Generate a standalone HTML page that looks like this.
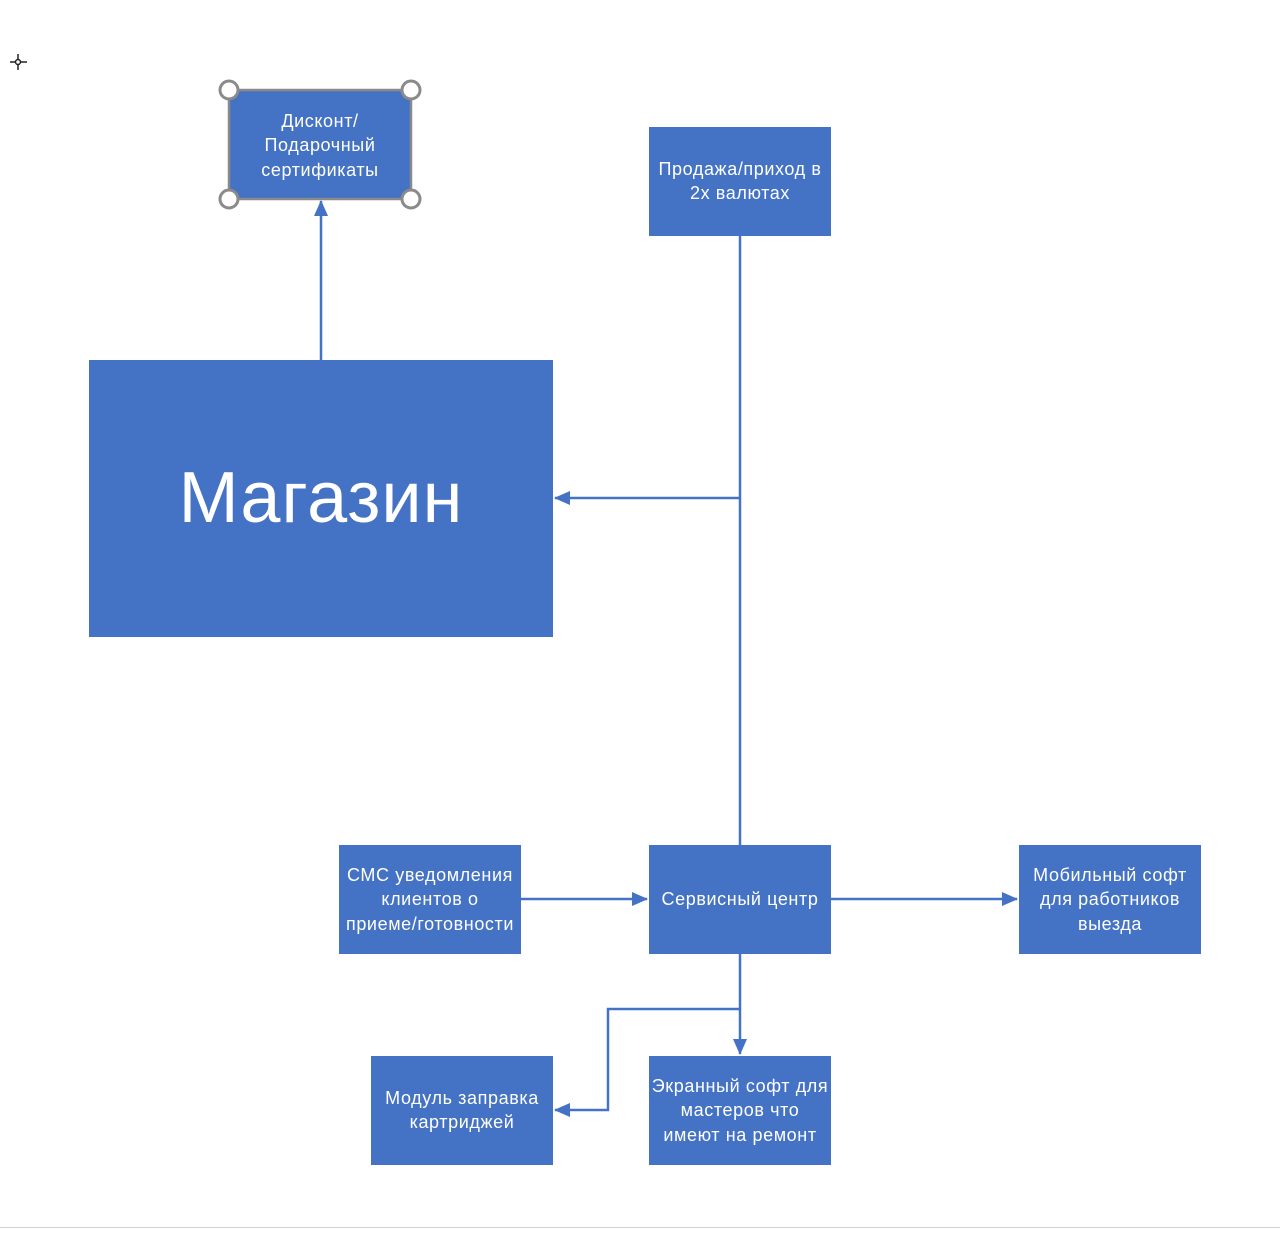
<!DOCTYPE html>
<html><head><meta charset="utf-8"><style>
html,body{margin:0;padding:0;background:#fff;width:1280px;height:1235px;overflow:hidden}
svg{display:block}
text{font-family:"Liberation Sans","DejaVu Sans",sans-serif;fill:#fff;text-anchor:middle}
</style></head><body>
<svg width="1280" height="1235" viewBox="0 0 1280 1235" xmlns="http://www.w3.org/2000/svg">
<defs>
<marker id="b" markerWidth="16" markerHeight="14" refX="15" refY="7" orient="auto" markerUnits="userSpaceOnUse">
<path d="M0,0 L16,7 L0,14 z" fill="#4472C4"/></marker>
</defs>
<g stroke="#222" stroke-width="1.5" fill="none">
<line x1="10" y1="62" x2="27" y2="62"/><line x1="18" y1="54" x2="18" y2="70"/>
<circle cx="18" cy="62" r="2.5" fill="#fff"/></g>
<g stroke="#4472C4" stroke-width="2.5" fill="none">
<line x1="321" y1="360" x2="321" y2="201" marker-end="url(#b)"/>
<line x1="740" y1="236" x2="740" y2="845"/>
<line x1="740" y1="498" x2="555" y2="498" marker-end="url(#b)"/>
<line x1="521" y1="899" x2="647" y2="899" marker-end="url(#b)"/>
<line x1="831" y1="899" x2="1017" y2="899" marker-end="url(#b)"/>
<line x1="740" y1="954" x2="740" y2="1054" marker-end="url(#b)"/>
<polyline points="740,1009 608,1009 608,1110 555,1110" marker-end="url(#b)"/>
</g>
<g fill="#4472C4">
<rect x="229" y="90" width="182" height="109" stroke="#8a8a8a" stroke-width="2.5"/>
<rect x="649" y="127" width="182" height="109"/>
<rect x="89" y="360" width="464" height="277"/>
<rect x="339" y="845" width="182" height="109"/>
<rect x="649" y="845" width="182" height="109"/>
<rect x="1019" y="845" width="182" height="109"/>
<rect x="371" y="1056" width="182" height="109"/>
<rect x="649" y="1056" width="182" height="109"/>
</g>
<g fill="#fff" stroke="#8a8a8a" stroke-width="3">
<circle cx="229" cy="90" r="9"/><circle cx="411" cy="90" r="9"/>
<circle cx="229" cy="199" r="9"/><circle cx="411" cy="199" r="9"/>
</g>
<g font-size="18" letter-spacing="0.6">
<text x="320" y="127">Дисконт/</text>
<text x="320" y="151">Подарочный</text>
<text x="320" y="176">сертификаты</text>
<text x="740" y="175">Продажа/приход в</text>
<text x="740" y="199">2х валютах</text>
<text x="430" y="881">СМС уведомления</text>
<text x="430" y="905">клиентов о</text>
<text x="430" y="930">приеме/готовности</text>
<text x="740" y="905">Сервисный центр</text>
<text x="1110" y="881">Мобильный софт</text>
<text x="1110" y="905">для работников</text>
<text x="1110" y="930">выезда</text>
<text x="462" y="1104">Модуль заправка</text>
<text x="462" y="1128">картриджей</text>
<text x="740" y="1092">Экранный софт для</text>
<text x="740" y="1116">мастеров что</text>
<text x="740" y="1141">имеют на ремонт</text>
</g>
<text x="321" y="522" font-size="72" letter-spacing="1">Магазин</text>
<line x1="0" y1="1227.5" x2="1280" y2="1227.5" stroke="#d0d0d0" stroke-width="1"/>
</svg>
</body></html>
